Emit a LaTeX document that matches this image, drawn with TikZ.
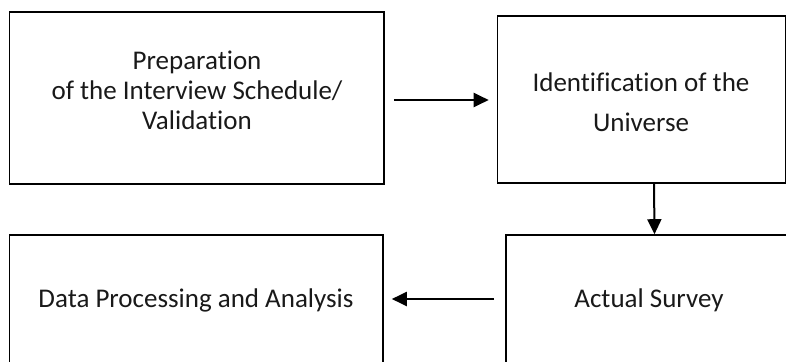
\documentclass[tikz,border=0pt]{standalone}
\usepackage{fontspec}
\setmainfont{Carlito}[Ligatures={NoCommon,NoRare}]
\usetikzlibrary{arrows.meta}
\begin{document}
\begin{tikzpicture}[x=1pt,y=-1pt,
  box/.style={draw=black,line width=1.6pt,rectangle,inner sep=0pt},
  lbl/.style={font=\fontsize{27}{30}\selectfont,align=center,inner sep=0pt,text=black!90},
  arr/.style={line width=2pt,-{Triangle[length=15pt,width=14pt]}}]
\clip (0,0) rectangle (786,361);
\useasboundingbox (0,0) rectangle (786,361);
\node[box,minimum width=374.5pt,minimum height=172pt] (b1) at (196.75,98) {};
\node[box,minimum width=288pt,minimum height=167pt] (b2) at (641.5,99.5) {};
\node[box,minimum width=373.5pt,minimum height=140pt] (b3) at (196.25,305) {};
\node[box,minimum width=290pt,minimum height=140pt] (b4) at (651,305) {};
\node[lbl] (t1) at (197,90) {Preparation\\of the Interview Schedule/\\Validation};
\node[lbl,font=\fontsize{27}{40}\selectfont] (t2) at (641,102) {Identification of the\\Universe};
\node[lbl] (t3) at (196,300) {Data Processing and Analysis};
\node[lbl] (t4) at (649,300) {Actual Survey};
\draw[arr] ([xshift=9pt,yshift=-2pt]b1.east) -- ([xshift=-8pt,yshift=-0.5pt]b2.west);
\draw[arr] ([xshift=12.5pt]b2.south) -- ([xshift=3.5pt]b4.north);
\draw[arr] ([xshift=-11pt,yshift=6pt]b4.west) -- ([xshift=8pt,yshift=6pt]b3.east);
\end{tikzpicture}
\end{document}
